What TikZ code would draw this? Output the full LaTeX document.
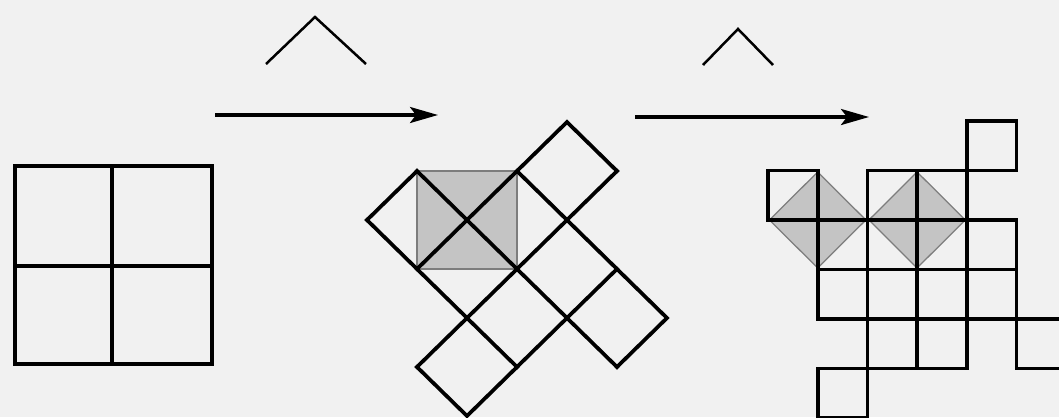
\documentclass[tikz,border=0pt]{standalone}
\usetikzlibrary{arrows.meta}
\definecolor{bg}{RGB}{241,241,241}
\definecolor{shade}{RGB}{196,196,196}
\definecolor{shadeedge}{RGB}{125,125,125}
\begin{document}
\begin{tikzpicture}[x=0.02cm,y=-0.02cm,
  edge/.style={line width=0.075cm, line cap=rect, line join=miter},
  chev/.style={line width=0.05cm},
  arr/.style={line width=0.065cm, -{Stealth[length=0.56cm,width=0.32cm,inset=0.12cm]}},
  shaded/.style={fill=shade, draw=shadeedge, line width=0.025cm}]
\fill[bg] (0,0) rectangle (1059,417);
\useasboundingbox (0,0) rectangle (1059,417);
\begin{scope}
\clip (0,0) rectangle (1059,417);
% chevrons and arrows
\draw[chev] (266,64) -- (315,17) -- (366,64);
\draw[chev] (703,65) -- (738,29) -- (773,65);
\coordinate (a1s) at (215,115);
\coordinate (a1e) at (438,115);
\coordinate (a2s) at (635,117);
\coordinate (a2e) at (869,117);
\draw[arr] (a1s) -- (a1e);
\draw[arr] (a2s) -- (a2e);
% left figure
\draw[edge] (15,166) rectangle (212,364);
\draw[edge] (112,166) -- (112,364);
\draw[edge] (15,266) -- (212,266);
% middle figure
\begin{scope}[shift={(467,220)}, x={(1cm,0.98cm)}, y={(1cm,-0.98cm)}]
\draw[shaded] (0,-1) -- (1,0) -- (0,1) -- (-1,0) -- cycle;
\draw[edge] (-1,-1) -- (0,-1);
\draw[edge] (-1,-1) -- (-1,2);
\draw[edge] (0,-1) -- (0,3);
\draw[edge] (-2,1) -- (2,1);
\draw[edge] (-1,0) -- (2,0) -- (2,1);
\draw[edge] (1,0) -- (1,3) -- (0,3);
\draw[edge] (1,2) -- (-1,2);
\draw[edge] (-2,1) -- (-2,2) -- (-1,2);
\end{scope}
% right figure
\begin{scope}[shift={(768,121)}, x={(0.994cm,0)}, y={(0,-0.99cm)}]
\draw[shaded] (0.03,2) -- (1,1.03) -- (1.97,2) -- (1,2.97) -- cycle;
\draw[shaded] (2.03,2) -- (3,1.03) -- (3.97,2) -- (3,2.97) -- cycle;
% horizontals
\draw[edge] (4,0) -- (5,0);
\draw[edge] (0,1) -- (1,1);
\draw[edge] (2,1) -- (5,1);
\draw[edge] (0,2) -- (5,2);
\draw[edge] (1,3) -- (5,3);
\draw[edge] (1,4) -- (6,4);
\draw[edge] (1,5) -- (4,5);
\draw[edge] (5,5) -- (6,5);
\draw[edge] (1,6) -- (2,6);
% verticals
\draw[edge] (0,1) -- (0,2);
\draw[edge] (1,1) -- (1,4);
\draw[edge] (1,5) -- (1,6);
\draw[edge] (2,1) -- (2,6);
\draw[edge] (3,1) -- (3,5);
\draw[edge] (4,0) -- (4,5);
\draw[edge] (5,0) -- (5,1);
\draw[edge] (5,2) -- (5,5);
\end{scope}
\end{scope}
\end{tikzpicture}
\end{document}
